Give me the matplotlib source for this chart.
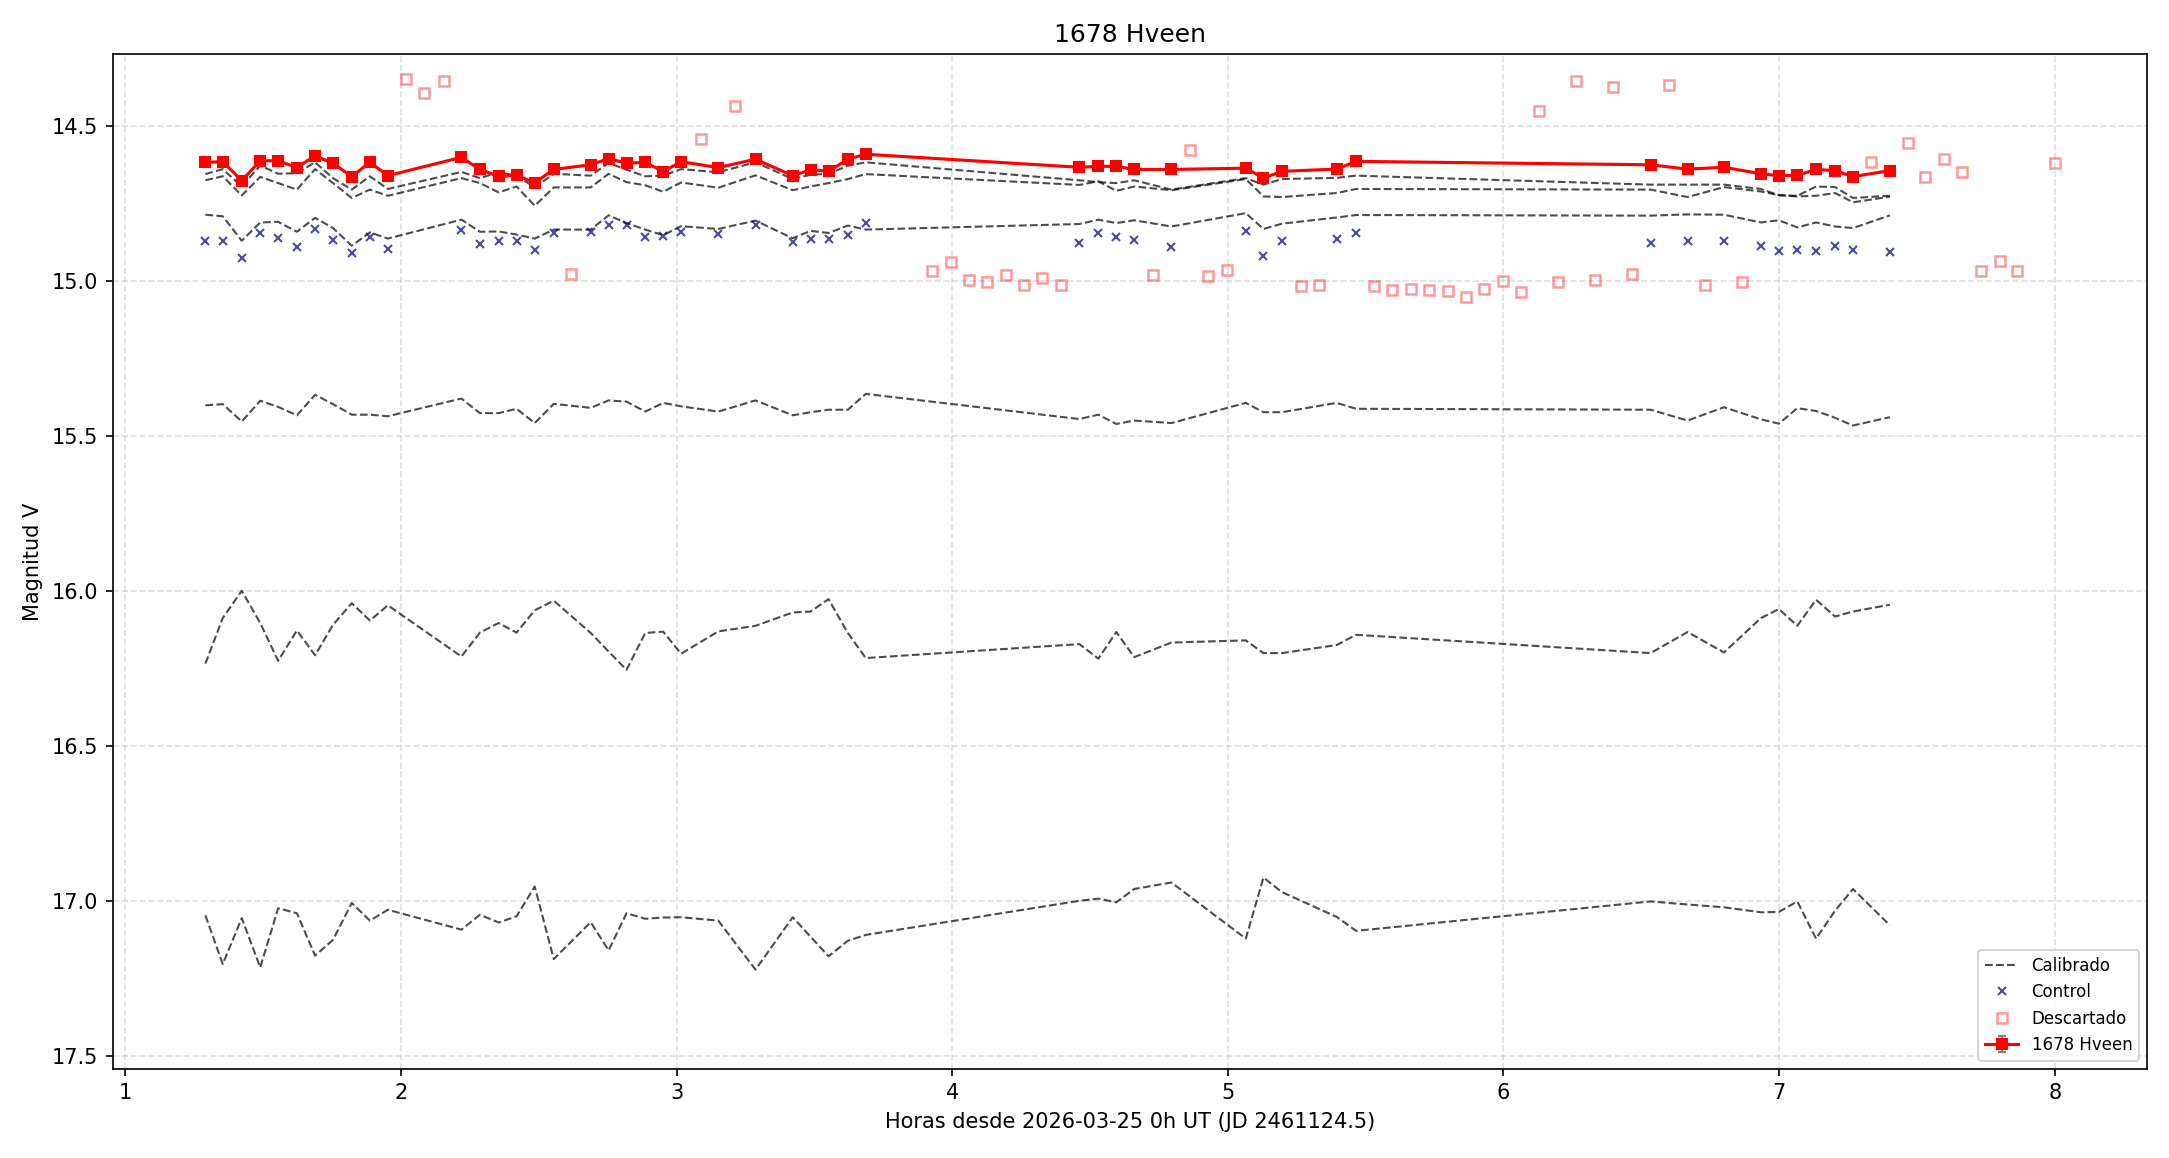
import matplotlib
matplotlib.use('Agg')
import matplotlib.pyplot as plt

# Horas desde 2026-03-25 0h UT
horas = [1.290, 1.353, 1.422, 1.489, 1.554, 1.622, 1.688, 1.753, 1.821, 1.887, 1.952,
         2.219, 2.286, 2.354, 2.419, 2.485, 2.554, 2.688, 2.753, 2.818, 2.886, 2.951,
         3.016, 3.151, 3.286, 3.421, 3.486, 3.551, 3.621, 3.686,
         4.461, 4.530, 4.595, 4.660, 4.795,
         5.065, 5.129, 5.196, 5.395, 5.465,
         6.534, 6.668, 6.800, 6.934, 6.999, 7.066, 7.134, 7.203, 7.268, 7.402]

# objetivo
mag_obj = [14.616, 14.614, 14.675, 14.611, 14.611, 14.633, 14.595, 14.619, 14.662, 14.616, 14.659,
           14.600, 14.639, 14.661, 14.658, 14.682, 14.639, 14.624, 14.604, 14.619, 14.616, 14.646,
           14.614, 14.633, 14.606, 14.659, 14.640, 14.645, 14.606, 14.590,
           14.632, 14.629, 14.629, 14.639, 14.639,
           14.635, 14.667, 14.645, 14.638, 14.613,
           14.624, 14.638, 14.632, 14.653, 14.659, 14.658, 14.639, 14.643, 14.662, 14.643]
err_obj = [0.005] * len(horas)

# estrella de control
mag_control = [14.871, 14.869, 14.924, 14.845, 14.859, 14.888, 14.832, 14.865, 14.910, 14.858, 14.897,
               14.835, 14.881, 14.869, 14.871, 14.898, 14.845, 14.842, 14.819, 14.819, 14.856, 14.853,
               14.842, 14.848, 14.819, 14.874, 14.862, 14.862, 14.849, 14.813,
               14.877, 14.843, 14.856, 14.865, 14.888,
               14.839, 14.917, 14.871, 14.862, 14.845,
               14.876, 14.871, 14.871, 14.885, 14.903, 14.898, 14.903, 14.885, 14.900, 14.906]

# curvas calibradas (una por estrella de comparacion)
cal_1 = [14.654, 14.638, 14.694, 14.626, 14.653, 14.651, 14.616, 14.667, 14.704, 14.661, 14.702,
         14.647, 14.667, 14.648, 14.659, 14.697, 14.653, 14.659, 14.618, 14.640, 14.661, 14.659,
         14.638, 14.648, 14.616, 14.670, 14.656, 14.653, 14.627, 14.616,
         14.674, 14.680, 14.683, 14.674, 14.704,
         14.667, 14.688, 14.670, 14.666, 14.659,
         14.688, 14.688, 14.688, 14.702, 14.722, 14.724, 14.694, 14.696, 14.731, 14.724]
cal_2 = [14.674, 14.661, 14.723, 14.663, 14.683, 14.704, 14.638, 14.683, 14.731, 14.704, 14.724,
         14.667, 14.683, 14.713, 14.694, 14.756, 14.697, 14.697, 14.653, 14.680, 14.690, 14.711,
         14.681, 14.698, 14.658, 14.706, 14.694, 14.683, 14.670, 14.654,
         14.689, 14.677, 14.708, 14.694, 14.706,
         14.670, 14.726, 14.728, 14.715, 14.702,
         14.704, 14.728, 14.696, 14.710, 14.722, 14.726, 14.724, 14.715, 14.745, 14.727]
cal_3 = [14.785, 14.790, 14.869, 14.810, 14.808, 14.840, 14.795, 14.828, 14.885, 14.842, 14.862,
         14.801, 14.840, 14.839, 14.849, 14.862, 14.833, 14.833, 14.787, 14.812, 14.833, 14.851,
         14.822, 14.831, 14.804, 14.861, 14.837, 14.844, 14.820, 14.833,
         14.815, 14.801, 14.812, 14.803, 14.823,
         14.780, 14.831, 14.814, 14.794, 14.786,
         14.788, 14.784, 14.785, 14.810, 14.803, 14.826, 14.810, 14.823, 14.828, 14.787]
cal_4 = [15.400, 15.396, 15.452, 15.385, 15.405, 15.432, 15.366, 15.396, 15.430, 15.430, 15.435,
         15.378, 15.425, 15.425, 15.411, 15.457, 15.395, 15.408, 15.384, 15.388, 15.420, 15.392,
         15.403, 15.420, 15.384, 15.432, 15.422, 15.414, 15.414, 15.363,
         15.444, 15.430, 15.460, 15.449, 15.457,
         15.392, 15.422, 15.422, 15.392, 15.411,
         15.414, 15.449, 15.406, 15.445, 15.459, 15.409, 15.418, 15.440, 15.465, 15.438]
cal_5 = [16.233, 16.086, 15.998, 16.102, 16.224, 16.126, 16.206, 16.108, 16.038, 16.094, 16.045,
         16.210, 16.133, 16.102, 16.133, 16.061, 16.030, 16.134, 16.194, 16.253, 16.134, 16.130,
         16.201, 16.129, 16.111, 16.068, 16.065, 16.025, 16.134, 16.215,
         16.170, 16.217, 16.131, 16.212, 16.165,
         16.158, 16.199, 16.199, 16.173, 16.140,
         16.199, 16.131, 16.197, 16.086, 16.057, 16.111, 16.027, 16.081, 16.065, 16.043]
cal_6 = [17.045, 17.202, 17.054, 17.213, 17.022, 17.038, 17.175, 17.124, 17.005, 17.062, 17.027,
         17.091, 17.043, 17.068, 17.048, 16.952, 17.186, 17.067, 17.158, 17.038, 17.056, 17.052,
         17.051, 17.062, 17.220, 17.051, 17.114, 17.177, 17.127, 17.108,
         16.998, 16.991, 17.003, 16.960, 16.939,
         17.120, 16.923, 16.970, 17.050, 17.095,
         17.000, 17.010, 17.019, 17.035, 17.034, 17.000, 17.120, 17.030, 16.960, 17.077]
calibradas = [cal_1, cal_2, cal_3, cal_4, cal_5, cal_6]

# puntos descartados
horas_desc = [2.019, 2.085, 2.154, 2.617, 3.088, 3.213, 3.925, 3.995, 4.061, 4.125, 4.195,
              4.260, 4.325, 4.395, 4.729, 4.861, 4.929, 4.995, 5.265, 5.330, 5.530, 5.597,
              5.665, 5.730, 5.797, 5.865, 5.930, 5.997, 6.065, 6.129, 6.199, 6.264, 6.332,
              6.397, 6.465, 6.599, 6.732, 6.867, 7.332, 7.466, 7.531, 7.600, 7.665, 7.734,
              7.800, 7.865, 8.000]
mag_desc = [14.348, 14.394, 14.355, 14.977, 14.542, 14.435, 14.968, 14.939, 14.997, 15.003, 14.978,
            15.011, 14.990, 15.013, 14.978, 14.575, 14.982, 14.962, 15.016, 15.013, 15.016, 15.029,
            15.026, 15.029, 15.032, 15.052, 15.026, 15.000, 15.035, 14.452, 15.003, 14.355, 14.997,
            14.374, 14.977, 14.367, 15.011, 15.003, 14.614, 14.555, 14.662, 14.606, 14.648, 14.965,
            14.935, 14.968, 14.619]

fig, ax = plt.subplots(figsize=(14.46, 7.72), dpi=150)

for i, cal in enumerate(calibradas):
    ax.plot(horas, cal, linestyle='--', color='k', alpha=0.7, linewidth=1,
            label='Calibrado' if i == 0 else None)

ax.plot(horas, mag_control, 'x', color='navy', alpha=0.7, markersize=4,
        label='Control')
ax.plot(horas_desc, mag_desc, 's', markerfacecolor='none', markeredgecolor='red',
        alpha=0.4, markersize=4.5, markeredgewidth=1.2, linestyle='none',
        label='Descartado')
ax.errorbar(horas, mag_obj, yerr=err_obj, fmt='-s', color='red', ecolor='gray',
            elinewidth=1, capsize=2, markersize=4.5, linewidth=1.5,
            label='1678 Hveen')

ax.set_xlim(0.954, 8.336)
ax.set_ylim(17.54, 14.268)
ax.set_xlabel('Horas desde 2026-03-25 0h UT (JD 2461124.5)')
ax.set_ylabel('Magnitud V')
ax.set_title('1678 Hveen')
ax.grid(True, linestyle='--', alpha=0.4)
ax.legend(loc='lower right', fontsize=8)

plt.subplots_adjust(left=0.052, right=0.990, top=0.953, bottom=0.077)
plt.savefig('out.png', dpi=150)
plt.close(fig)
